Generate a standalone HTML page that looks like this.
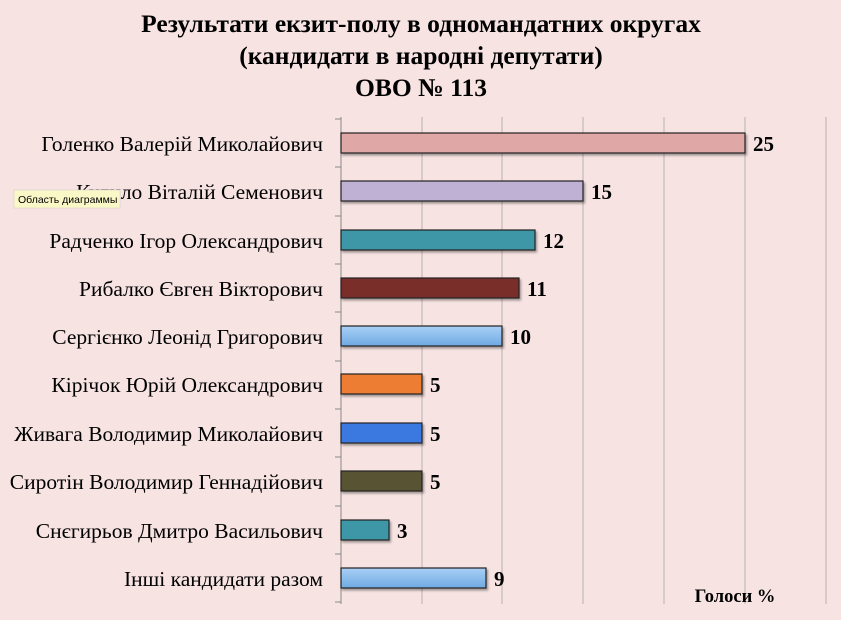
<!DOCTYPE html>
<html><head><meta charset="utf-8"><style>
html,body{margin:0;padding:0;background:#f6e3e2;}
svg{display:block;font-family:"Liberation Serif",serif;}
</style></head><body>
<svg width="841" height="620" viewBox="0 0 841 620">
<defs>
<linearGradient id="lb" x1="0" y1="0" x2="0" y2="1"><stop offset="0" stop-color="#a9d0f5"/><stop offset="1" stop-color="#6fa9e3"/></linearGradient>
<filter id="sh"><feDropShadow dx="1.5" dy="2" stdDeviation="1" flood-color="#000" flood-opacity="0.35"/></filter>
</defs>
<rect width="841" height="620" fill="#f6e3e2"/>
<g font-weight="bold" font-size="25.5" text-anchor="middle" fill="#000">
<text x="421" y="32">Результати екзит-полу в одномандатних округах</text>
<text x="421" y="64">(кандидати в народні депутати)</text>
<text x="421" y="96">ОВО № 113</text>
</g>
<g stroke="#b9b0b0" stroke-width="1">
<line x1="422" y1="117" x2="422" y2="604"/><line x1="502" y1="117" x2="502" y2="604"/>
<line x1="583" y1="117" x2="583" y2="604"/><line x1="664" y1="117" x2="664" y2="604"/>
<line x1="745" y1="117" x2="745" y2="604"/><line x1="826" y1="117" x2="826" y2="604"/>
</g>
<g stroke="#888" stroke-width="1">
<line x1="341" y1="117" x2="341" y2="604"/>
<line x1="335" y1="119" x2="341" y2="119"/><line x1="335" y1="167" x2="341" y2="167"/><line x1="335" y1="216" x2="341" y2="216"/><line x1="335" y1="264" x2="341" y2="264"/><line x1="335" y1="312" x2="341" y2="312"/><line x1="335" y1="361" x2="341" y2="361"/><line x1="335" y1="409" x2="341" y2="409"/><line x1="335" y1="457" x2="341" y2="457"/><line x1="335" y1="506" x2="341" y2="506"/><line x1="335" y1="554" x2="341" y2="554"/><line x1="335" y1="602" x2="341" y2="602"/>
</g>
<g stroke="#222" stroke-width="1.2" filter="url(#sh)">
<rect x="341" y="133" width="404" height="20" fill="#dfa7a5"/>
<rect x="341" y="181" width="242" height="20" fill="#bfb1d4"/>
<rect x="341" y="230" width="194" height="20" fill="#3e97a6"/>
<rect x="341" y="278" width="178" height="20" fill="#7a2f2c"/>
<rect x="341" y="326" width="161" height="20" fill="url(#lb)"/>
<rect x="341" y="374" width="81" height="20" fill="#ed7d31"/>
<rect x="341" y="423" width="81" height="20" fill="#3a78e0"/>
<rect x="341" y="471" width="81" height="20" fill="#595330"/>
<rect x="341" y="520" width="48" height="20" fill="#3e97a6"/>
<rect x="341" y="568" width="145" height="20" fill="url(#lb)"/>
</g>
<g font-weight="bold" font-size="21" fill="#000">
<text x="753" y="151">25</text><text x="591" y="199">15</text><text x="543" y="248">12</text>
<text x="527" y="296">11</text><text x="510" y="344">10</text><text x="430" y="392">5</text>
<text x="430" y="441">5</text><text x="430" y="489">5</text><text x="397" y="538">3</text>
<text x="494" y="586">9</text>
</g>
<g font-size="21.5" text-anchor="end" fill="#000">
<text x="323" y="151">Голенко Валерій Миколайович</text>
<text x="323" y="199">Кулило Віталій Семенович</text>
<text x="323" y="248">Радченко Ігор Олександрович</text>
<text x="323" y="296">Рибалко Євген Вікторович</text>
<text x="323" y="344">Сергієнко Леонід Григорович</text>
<text x="323" y="392">Кірічок Юрій Олександрович</text>
<text x="323" y="441">Живага Володимир Миколайович</text>
<text x="323" y="489">Сиротін Володимир Геннадійович</text>
<text x="323" y="538">Снєгирьов Дмитро Васильович</text>
<text x="323" y="586">Інші кандидати разом</text>
</g>
<text x="735" y="602" font-weight="bold" font-size="18.5" text-anchor="middle">Голоси %</text>
<rect x="14" y="190" width="106" height="18" fill="#fbf8c8" stroke="#ccc" stroke-width="0.5"/>
<text x="18" y="203" font-family="'Liberation Sans',sans-serif" font-size="10.5" fill="#000">Область диаграммы</text>
</svg>
</body></html>
